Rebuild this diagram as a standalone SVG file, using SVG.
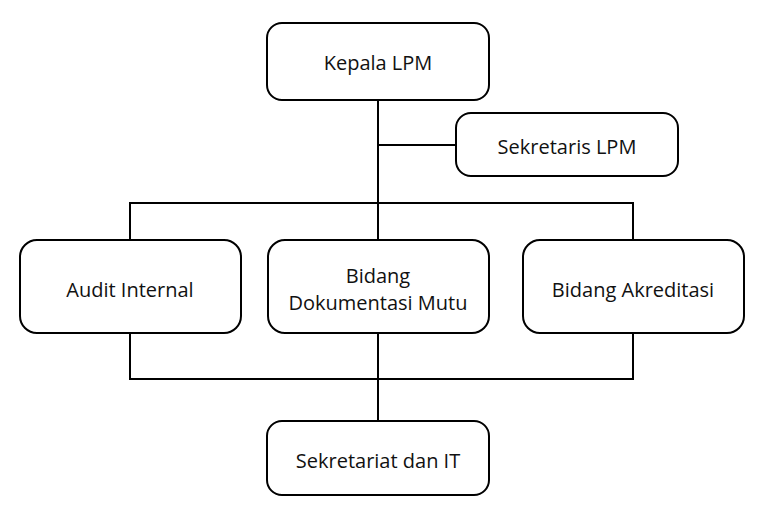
<svg xmlns="http://www.w3.org/2000/svg" width="768" height="516" viewBox="0 0 768 516">
<style>
.box{fill:#fff;stroke:#000;stroke-width:2}
.lbl{font-family:"Open Sans","Liberation Sans",sans-serif;font-size:20px;fill:#111;text-anchor:middle;dominant-baseline:central}
.con{fill:none;stroke:#000;stroke-width:2}
</style>
<rect width="768" height="516" fill="#fff"/>
<g id="connectors">
<path class="con" d="M378 100V421"/>
<path class="con" d="M378 145H456"/>
<path class="con" d="M130 240V203H633V240"/>
<path class="con" d="M130 333V379H633V333"/>
</g>
<g id="kepala"><rect class="box" x="267" y="23" width="222" height="77" rx="15"/><text class="lbl" x="378" y="62">Kepala LPM</text></g>
<g id="sekretaris"><rect class="box" x="456" y="113" width="222" height="63" rx="15"/><text class="lbl" x="567" y="146">Sekretaris LPM</text></g>
<g id="audit"><rect class="box" x="20" y="240" width="221" height="93" rx="17"/><text class="lbl" x="130" y="289">Audit Internal</text></g>
<g id="dokumentasi"><rect class="box" x="268" y="240" width="221" height="93" rx="17"/><text class="lbl" x="378" y="275">Bidang</text><text class="lbl" x="378" y="302">Dokumentasi Mutu</text></g>
<g id="akreditasi"><rect class="box" x="523" y="240" width="221" height="93" rx="17"/><text class="lbl" x="633" y="289">Bidang Akreditasi</text></g>
<g id="sekretariat"><rect class="box" x="267" y="421" width="222" height="74" rx="15"/><text class="lbl" x="378" y="460">Sekretariat dan IT</text></g>
</svg>
